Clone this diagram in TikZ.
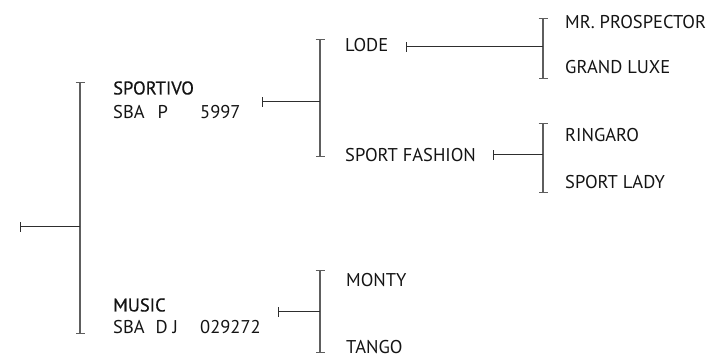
\documentclass[tikz,border=0pt]{standalone}
\usepackage{fontspec}
\setmainfont{PT Sans}
\newfontfamily\namefont[FakeBold=0.5]{PT Sans}
\usetikzlibrary{arrows.meta}
\definecolor{lineGray}{HTML}{5E5E5E}
\definecolor{stubGray}{HTML}{2E2E2E}
\definecolor{textDark}{HTML}{141414}

\begin{document}
\begin{tikzpicture}[x=1pt,y=-1pt,
  horse/.style={anchor=west, inner sep=0pt, font=\fontsize{18.5}{21}\selectfont, text=textDark},
  sire/.style={horse, font=\fontsize{18.5}{21}\selectfont\namefont},
  bracket/.style={{Bar[width=9pt,line width=1.1pt]}-{Bar[width=9pt,line width=1.1pt]}, line width=2pt, lineGray},
  stub/.style={{Bar[width=10pt,line width=1.4pt]}-, line width=1.1pt, stubGray}
]
\useasboundingbox (0,0) rectangle (715,358);
% generation 1
\coordinate (rootS) at (20,226.7);
\coordinate (rootT) at (80,81.7);
\coordinate (rootB) at (80,334);
\draw[bracket] (rootT) -- (rootB);
\draw[stub] (rootS) -- (rootS -| rootT);
% generation 2
\node[sire] (sportivo) at (113,88) {SPORTIVO};
\node[horse] (sportivoReg) at (113,112) {\makebox[87pt][l]{SBA\hspace{13pt}P}5997};
\node[sire] (music) at (113,305) {MUSIC};
\node[horse] (musicReg) at (113,327) {\makebox[87pt][l]{SBA\hspace{11pt}D J}029272};
% generation 3
\coordinate (sportivoS) at (262,101.7);
\coordinate (sportivoT) at (320,39);
\coordinate (sportivoB) at (320,157);
\draw[bracket] (sportivoT) -- (sportivoB);
\draw[stub] (sportivoS) -- (sportivoS -| sportivoT);
\node[horse] (lode) at (345,45) {LODE};
\node[horse] (fashion) at (345,155) {SPORT FASHION};
\coordinate (musicS) at (278,311.7);
\coordinate (musicT) at (320,270);
\coordinate (musicB) at (320,353);
\draw[bracket] (musicT) -- (musicB);
\draw[stub] (musicS) -- (musicS -| musicT);
\node[horse] (monty) at (346,280) {MONTY};
\node[horse] (tango) at (346,347) {TANGO};
% generation 4
\coordinate (lodeS) at (406,46.7);
\coordinate (lodeT) at (543,18);
\coordinate (lodeB) at (543,79);
\draw[bracket] (lodeT) -- (lodeB);
\draw[stub] (lodeS) -- (lodeS -| lodeT);
\node[horse] (prospector) at (565,21.7) {MR. PROSPECTOR};
\node[horse] (luxe) at (565,66.7) {GRAND LUXE};
\coordinate (fashionS) at (493,154.7);
\coordinate (fashionT) at (543,123);
\coordinate (fashionB) at (543,193);
\draw[bracket] (fashionT) -- (fashionB);
\draw[stub] (fashionS) -- (fashionS -| fashionT);
\node[horse] (ringaro) at (565,135) {RINGARO};
\node[horse] (lady) at (565,181.7) {SPORT LADY};
\end{tikzpicture}
\end{document}
